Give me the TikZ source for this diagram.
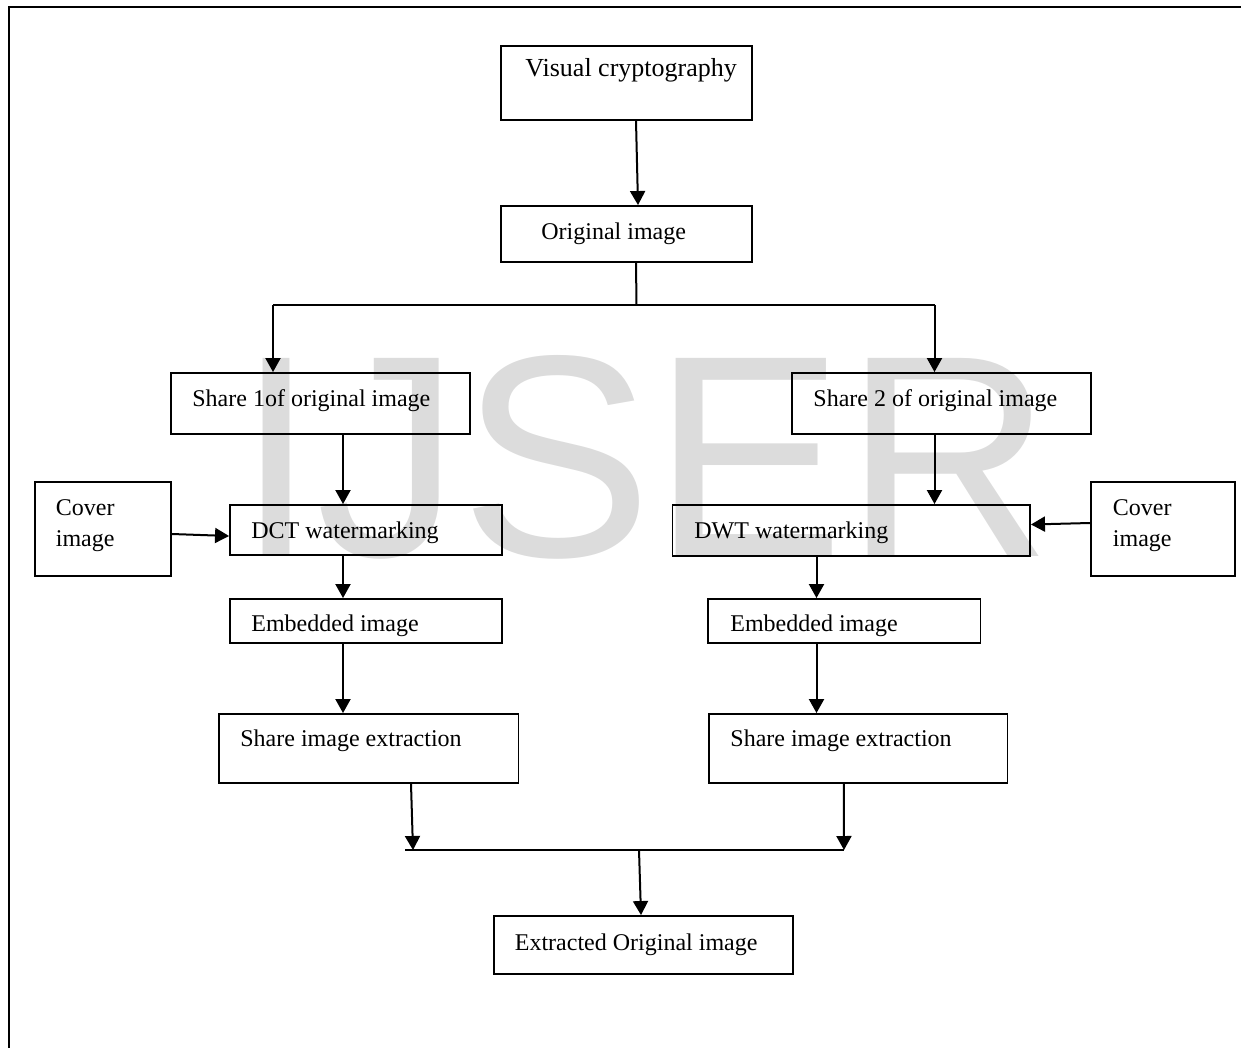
\documentclass[tikz,border=0pt]{standalone}
\usepackage{fontspec}
\setmainfont{Liberation Serif}
\newfontfamily\wmfont{Liberation Sans}
\usetikzlibrary{arrows.meta,calc,fit}

\definecolor{wmgray}{RGB}{220,220,220}

\tikzset{
    box/.style={draw, line width=0.95pt, inner sep=0pt},
    lbl/.style={anchor=base west, inner sep=0pt,
        font=\fontsize{12}{14}\selectfont},
    arr/.style={-{Triangle[length=7pt,width=7.5pt]}, line width=1pt},
    joint/.style={line width=1pt}
}

\begin{document}
\begin{tikzpicture}[x=0.5pt, y=-0.5pt]
            \useasboundingbox (0,0) rectangle (1241,1048);

            % journal watermark
            \node[anchor=base west, inner sep=0pt, text=wmgray,
                font=\wmfont\fontsize{144}{144}\selectfont] (mark)
                at (236,556.7) {IJSER};

            \draw[line width=1pt] (9,1048) -- (9,7.5) -- (1241,7.5);

            % boxes
            \node[box, fit={(501,46) (752,120)}] (visual) {};
            \node[box, fit={(501,206) (752,262)}] (orig) {};
            \node[box, fit={(171,373) (470,434)}] (share1) {};
            \node[box, fit={(792,373) (1091,434)}] (share2) {};
            \node[box, fit={(35,482) (171,576)}] (coverL) {};
            \node[box, fit={(230,505) (502,555)}] (dct) {};
            \node[box, fit={(672.5,505) (1030,556)}] (dwt) {};
            \node[box, fit={(1091,482) (1235,576)}] (coverR) {};
            \node[box, fit={(230,599) (502,643)}] (emb1) {};
            \node[box, fit={(708,599) (980.5,643)}] (emb2) {};
            \node[box, fit={(219,714) (518.5,783)}] (sie1) {};
            \node[box, fit={(709,714) (1007.5,783)}] (sie2) {};
            \node[box, fit={(494,916) (793,974)}] (final) {};

            % texts
            \node[lbl, font=\fontsize{13}{15}\selectfont] (visualtxt)
                at (525,77) {Visual cryptography};
            \node[lbl] (origtxt) at (541,240) {Original image};
            \node[lbl] (share1txt) at (192,406) {Share 1of original image};
            \node[lbl] (share2txt) at (813,406) {Share 2 of original image};
            \node[lbl] (coverLa) at (55.5,515) {Cover};
            \node[lbl] (coverLb) at (55.5,546) {image};
            \node[lbl] (coverRa) at (1112.5,515) {Cover};
            \node[lbl] (coverRb) at (1112.5,546) {image};
            \node[lbl] (dcttxt) at (251,538) {DCT watermarking};
            \node[lbl] (dwttxt) at (694,538) {DWT watermarking};
            \node[lbl] (emb1txt) at (251,631.5) {Embedded image};
            \node[lbl] (emb2txt) at (730,631.5) {Embedded image};
            \node[lbl] (sie1txt) at (240,746.5) {Share image extraction};
            \node[lbl] (sie2txt) at (730,746.5) {Share image extraction};
            \node[lbl] (finaltxt) at (514.5,950) {Extracted Original image};

            % split and join points
            \coordinate (split) at (636.5,305);
            \coordinate (splitL) at (273,305);
            \coordinate (splitR) at (934.5,305);
            \coordinate (join) at (639,850);
            \coordinate (joinL) at (405,850);
            \coordinate (joinR) at (844,850);

            \draw[arr] ($(visual.south)+(9.5,0)$) -- ($(orig.north)+(11.5,0)$);
            \draw[joint] ($(orig.south)+(9.5,0)$) -- (split);
            \draw[joint] (splitL) -- (splitR);
            \draw[arr] (splitL) -- (splitL |- share1.north);
            \draw[arr] (splitR) -- (splitR |- share2.north);

            \draw[arr] ($(share1.south)+(22.5,0)$) -- ($(dct.north)+(-23,0)$);
            \draw[arr] ($(coverL.east)+(0,5)$) -- ($(dct.west)+(0,6)$);
            \draw[arr] ($(dct.south)+(-23,0)$) -- ($(emb1.north)+(-23,0)$);
            \draw[arr] ($(emb1.south)+(-23,0)$) -- ($(sie1.north)+(-25.75,0)$);

            \draw[arr] ($(share2.south)+(-7,0)$) -- ($(dwt.north)+(83.25,0)$);
            \draw[arr] ($(coverR.west)+(0,-6)$) -- ($(dwt.east)+(0,-6)$);
            \draw[arr] ($(dwt.south)+(-34.75,0)$) -- ($(emb2.north)+(-27.75,0)$);
            \draw[arr] ($(emb2.south)+(-27.75,0)$) -- ($(sie2.north)+(-41.75,0)$);

            \draw[arr] ($(sie1.south)+(42.25,0)$) -- ($(joinL)+(8,0)$);
            \draw[arr] ($(sie2.south)+(-14.5,0)$) -- (joinR);
            \draw[joint] (joinL) -- (joinR);
            \draw[arr] (join) -- ($(final.north)+(-2.5,0)$);
\end{tikzpicture}
\end{document}
